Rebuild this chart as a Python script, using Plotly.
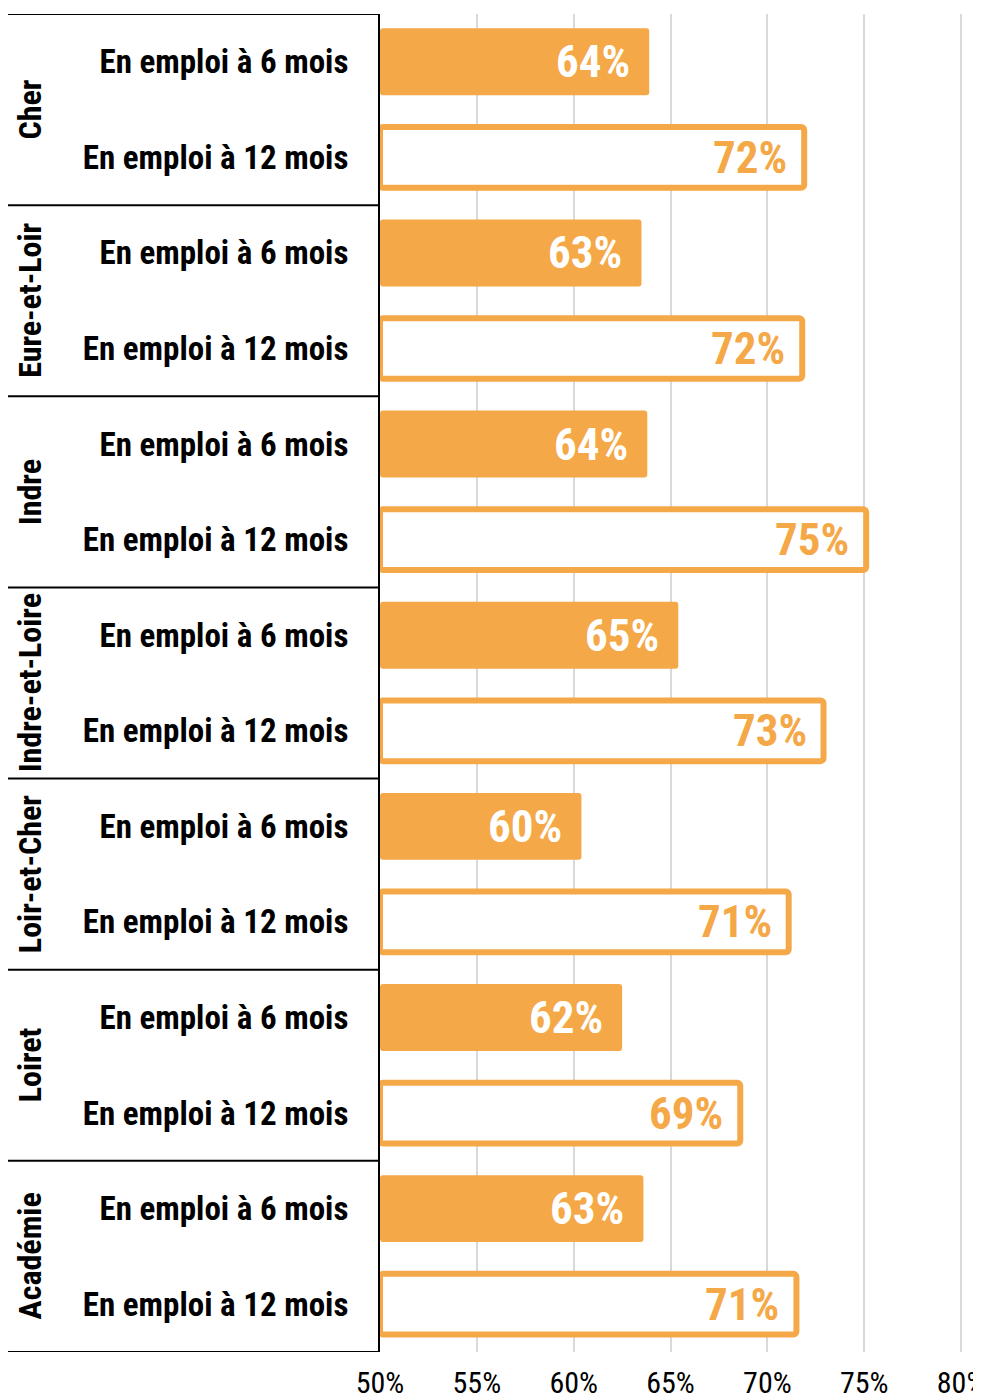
import plotly.graph_objects as go

# ---- data ----
groups = ["Cher", "Eure-et-Loir", "Indre", "Indre-et-Loire", "Loir-et-Cher", "Loiret", "Académie"]
sub_labels = ["En emploi à 6 mois", "En emploi à 12 mois"]
six_months = [63.9, 63.5, 63.8, 65.4, 60.4, 62.5, 63.6]
twelve_months = [71.9, 71.8, 75.1, 72.9, 71.1, 68.6, 71.5]
six_labels = ["64%", "63%", "64%", "65%", "60%", "62%", "63%"]
twelve_labels = ["72%", "72%", "75%", "73%", "71%", "69%", "71%"]
x_ticks = [50, 55, 60, 65, 70, 75, 80]
x_tick_labels = ["50%", "55%", "60%", "65%", "70%", "75%", "80%"]

AXIS_MIN, AXIS_MAX = 50, 80.1
ORANGE = "#F5A847"
FONT = "Liberation Sans Narrow, Arial Narrow, Roboto Condensed, sans-serif"

# page offset caused by the default body margin of the html page
OFF = 8
PX_PER_UNIT = 19.37
W, H = 981 - OFF, 1399 - OFF
PLOT_L = 380 - OFF          # plot left edge at page x = 380
PLOT_T = 14 - OFF           # plot top at page y = 14
PLOT_RIGHT_PAGE = 380 + (AXIS_MAX - AXIS_MIN) * PX_PER_UNIT
PLOT_BOTTOM_PAGE = 1352
PLOT_R = W - (PLOT_RIGHT_PAGE - OFF)
PLOT_B = H - (PLOT_BOTTOM_PAGE - OFF)
plot_w = W - PLOT_L - PLOT_R


def page_x_to_paper(px):
    return (px - 380) / plot_w


n = len(groups)
y6 = [2 * i for i in range(n)]
y12 = [2 * i + 1 for i in range(n)]

fig = go.Figure()
fig.add_trace(go.Bar(
    orientation="h",
    y=y6,
    x=[v - 50 for v in six_months],
    base=50,
    width=0.70,
    marker=dict(color=ORANGE, line=dict(width=0), cornerradius=3),
    hoverinfo="skip",
    showlegend=False,
))
fig.add_trace(go.Bar(
    orientation="h",
    y=y12,
    x=[v - 50 for v in twelve_months],
    base=50,
    width=0.635,
    marker=dict(color="white", line=dict(width=6, color=ORANGE), cornerradius=3),
    hoverinfo="skip",
    showlegend=False,
))

annotations = []
for yy, v, t in zip(y6, six_months, six_labels):
    annotations.append(dict(
        x=v, y=yy, xref="x", yref="y", text=t, showarrow=False,
        xanchor="right", yanchor="middle", xshift=-17, yshift=0,
        font=dict(family=FONT, size=45, color="white", weight="bold"),
    ))
for yy, v, t in zip(y12, twelve_months, twelve_labels):
    annotations.append(dict(
        x=v, y=yy, xref="x", yref="y", text=t, showarrow=False,
        xanchor="right", yanchor="middle", xshift=-15, yshift=0,
        font=dict(family=FONT, size=45, color=ORANGE, weight="bold"),
    ))

for g, name in enumerate(groups):
    annotations.append(dict(
        x=page_x_to_paper(30), y=2 * g + 0.5, xref="paper", yref="y",
        text=name, showarrow=False, textangle=-90,
        xanchor="center", yanchor="middle",
        font=dict(family=FONT, size=32, color="black", weight="bold"),
    ))

shapes = []
for g in range(n + 1):
    shapes.append(dict(
        type="line", xref="paper", yref="y",
        x0=page_x_to_paper(8), x1=0, y0=2 * g - 0.5, y1=2 * g - 0.5,
        line=dict(color="black", width=2),
    ))

tick_vals = []
tick_text = []
for g in range(n):
    tick_vals += [2 * g, 2 * g + 1]
    tick_text += sub_labels

fig.update_layout(
    width=W, height=H,
    margin=dict(l=PLOT_L, r=PLOT_R, t=PLOT_T, b=PLOT_B, pad=0, autoexpand=False),
    paper_bgcolor="white", plot_bgcolor="white",
    barmode="overlay",
    annotations=annotations,
    shapes=shapes,
    xaxis=dict(
        range=[AXIS_MIN, AXIS_MAX],
        tickvals=x_ticks, ticktext=x_tick_labels,
        showgrid=True, gridcolor="#D9D9D9", gridwidth=2,
        zeroline=False, showline=False, ticks="",
        ticklabelstandoff=10,
        ticklabeloverflow="allow",
        tickfont=dict(family=FONT, size=30, color="black"),
        automargin=False,
        fixedrange=True,
    ),
    yaxis=dict(
        range=[2 * n - 0.5, -0.5],
        tickvals=tick_vals, ticktext=tick_text,
        showgrid=False, zeroline=False,
        showline=True, linecolor="black", linewidth=2,
        ticks="", ticklabelstandoff=23,
        tickfont=dict(family=FONT, size=33, color="black", weight="bold"),
        automargin=False,
        fixedrange=True,
    ),
)

fig.write_html("out.html")
